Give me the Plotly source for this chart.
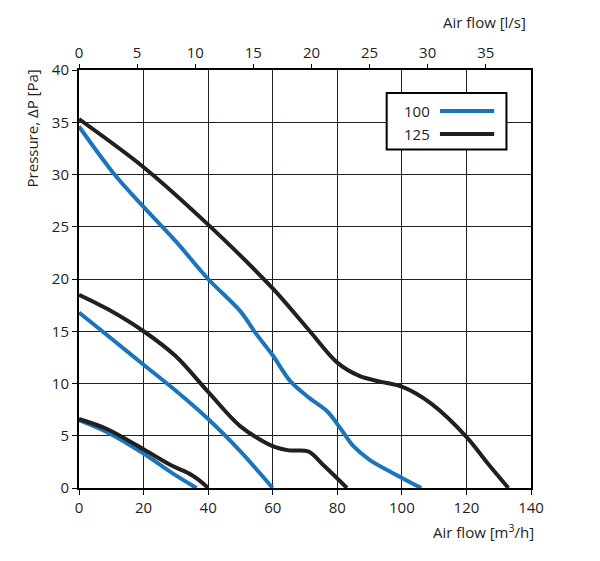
import plotly.graph_objects as go

# airflow in m3/h, pressure in Pa
series_names = ["100", "125"]
series_colors = ["#1b75bb", "#231f20"]

# model 100 (blue), three speeds
flow_100_high = [0, 11, 20, 30, 40, 50, 55, 60, 65.5, 71, 77, 81, 85, 90, 98, 106]
pres_100_high = [34.6, 30.0, 26.9, 23.6, 20.0, 16.9, 14.7, 12.7, 10.2, 8.7, 7.3, 5.7, 4.0, 2.7, 1.3, 0]
flow_100_mid = [0, 10, 20, 30, 40, 50, 60]
pres_100_mid = [16.8, 14.3, 11.8, 9.3, 6.6, 3.5, 0]
flow_100_low = [0, 9, 20, 29, 36.4]
pres_100_low = [6.5, 5.3, 3.3, 1.4, 0]

# model 125 (black), three speeds
flow_125_high = [0, 20, 40, 60, 71.5, 80, 87, 93, 100, 109, 120, 126.5, 133]
pres_125_high = [35.3, 30.7, 25.2, 19.1, 15.0, 12.0, 10.7, 10.2, 9.7, 8.1, 4.9, 2.4, 0]
flow_125_mid = [0, 9, 20, 30, 40, 50, 60, 65, 71, 76, 83]
pres_125_mid = [18.5, 17.1, 15.0, 12.6, 9.2, 5.9, 4.0, 3.6, 3.5, 2.1, 0]
flow_125_low = [0, 9, 20, 29, 34, 37, 40]
pres_125_low = [6.6, 5.6, 3.7, 2.1, 1.4, 0.8, 0]

x_ticks = [0, 20, 40, 60, 80, 100, 120, 140]
y_ticks = [0, 5, 10, 15, 20, 25, 30, 35, 40]
ls_ticks = [0, 5, 10, 15, 20, 25, 30, 35]

curves = [
    (flow_100_high, pres_100_high, 0), (flow_100_mid, pres_100_mid, 0), (flow_100_low, pres_100_low, 0),
    (flow_125_high, pres_125_high, 1), (flow_125_mid, pres_125_mid, 1), (flow_125_low, pres_125_low, 1),
]

FONT = "Open Sans"
TXT = "#231f20"
FS = 15

fig = go.Figure()
for xs, ys, k in curves:
    fig.add_trace(go.Scatter(
        x=xs, y=ys, mode="lines", name=series_names[k],
        line=dict(color=series_colors[k], width=4, shape="spline", smoothing=0.9),
        showlegend=False,
    ))

fig.update_layout(
    width=600, height=561,
    margin=dict(l=79, r=69, t=70, b=73),
    plot_bgcolor="white", paper_bgcolor="white",
    font=dict(family=FONT, size=FS, color=TXT),
    xaxis=dict(
        range=[0, 140], tickvals=x_ticks, ticks="outside", ticklen=5, tickcolor="black",
        showgrid=True, gridcolor="#231f20", gridwidth=1.2,
        showline=True, linecolor="black", linewidth=2, mirror=True,
        zeroline=False, automargin=False, tickfont=dict(size=FS, color=TXT),
    ),
    xaxis2=dict(
        overlaying="x", side="top", range=[0, 140],
        tickvals=[v * 3.6 for v in ls_ticks], ticktext=[str(v) for v in ls_ticks],
        ticks="outside", ticklen=5, tickcolor="black", showgrid=False, zeroline=False,
        automargin=False, tickfont=dict(size=FS, color=TXT),
    ),
    yaxis=dict(
        range=[0, 40], tickvals=y_ticks, ticks="outside", ticklen=5, tickcolor="black",
        showgrid=True, gridcolor="#231f20", gridwidth=1.2,
        showline=True, linecolor="black", linewidth=2, mirror=True,
        zeroline=False, automargin=False, tickfont=dict(size=FS, color=TXT),
    ),
)

# invisible helper so the top axis is drawn
fig.add_trace(go.Scatter(x=[0, 140], y=[0, 0], xaxis="x2", mode="lines",
                         line=dict(width=0), hoverinfo="skip", showlegend=False))

# axis titles
fig.add_annotation(text="Air flow [m<sup>3</sup>/h]", xref="paper", yref="paper",
                   x=1.01, y=-0.104, xanchor="right", yanchor="middle", showarrow=False,
                   font=dict(size=FS, color=TXT))
fig.add_annotation(text="Air flow [l/s]", xref="paper", yref="paper",
                   x=0.994, y=1.115, xanchor="right", yanchor="middle", showarrow=False,
                   font=dict(size=FS, color=TXT))
fig.add_annotation(text="Pressure, \u0394P [Pa]", xref="paper", yref="paper",
                   x=-0.105, y=1.005, xanchor="center", yanchor="top", textangle=-90,
                   showarrow=False, font=dict(size=FS, color=TXT))

# legend box drawn by hand (text left of the line)
fig.add_shape(type="rect", xref="x", yref="y", x0=95.3, x1=132.4, y0=32.4, y1=37.8,
              line=dict(color="black", width=2), fillcolor="white", layer="above")
for k, yy in enumerate([36.07, 33.87]):
    fig.add_shape(type="line", xref="x", yref="y", x0=111.8, x1=128.6, y0=yy, y1=yy,
                  line=dict(color=series_colors[k], width=4), layer="above")
    fig.add_annotation(text=series_names[k], xref="x", yref="y", x=109.3, y=yy,
                       xanchor="right", yanchor="middle", showarrow=False,
                       font=dict(size=FS, color=TXT))

# page body has a default 8px margin, drop it so the figure sits at 0,0
fig.write_html("out.html", config={"displayModeBar": False},
               post_script="document.body.style.margin='0';")
